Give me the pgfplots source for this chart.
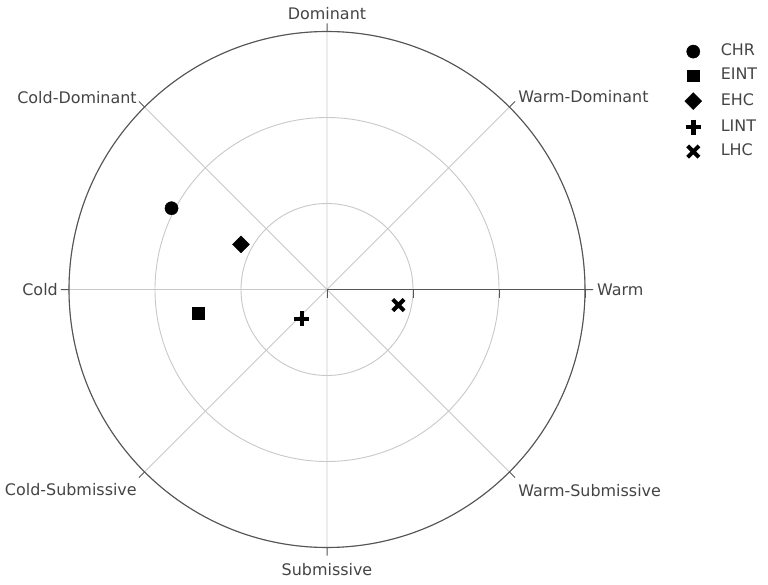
\documentclass[border=0pt]{standalone}
\usepackage{pgfplots}
\pgfplotsset{compat=1.18}
\usepgfplotslibrary{polar}
\usepackage{fontspec}
\setmainfont{DejaVu Sans}
\definecolor{txt}{HTML}{444444}
\definecolor{gridc}{HTML}{C8C8C8}
\definecolor{axc}{HTML}{555555}
\newcommand{\lblfont}{\fontsize{16}{19}\selectfont}
\begin{document}
\begin{tikzpicture}
\path[use as bounding box] (0,0) rectangle (768bp,585bp);
\begin{polaraxis}[
  at={(327bp,295.5bp)}, anchor=center,
  scale only axis, width=516bp, height=516bp,
  xmin=0, xmax=360, ymin=0, ymax=3,
  xtick={0,45,...,315}, xticklabels={},
  ytick={0,1,2,3}, yticklabels={},
  xmajorgrids, ymajorgrids,
  major grid style={gridc, line width=0.9bp},
  axis line style={axc, line width=1.1bp},
  xtick align=inside, ytick align=inside,
  major tick length=8bp,
  tick style={axc, line width=1bp},
  ytick style={yshift=-8bp},
  clip=false,
  legend style={draw=none, fill=none, at={(1.193,0.975)}, anchor=north west,
    inner sep=0pt, font=\lblfont, text=txt,
    nodes={inner xsep=4bp, inner ysep=0pt, text height=11bp, text depth=3bp},
    row sep=10bp, column sep=15bp},
  legend cell align=left,
]
\addplot[forget plot, no marks, draw=axc, line width=1.2bp] coordinates {(0,0) (0,3)};
\addplot[only marks, mark=*, mark size=6.6bp, black] coordinates {(152.4,2.04)};
\addlegendentry{CHR}
\addplot[only marks, mark=square*, mark size=5.8bp, black] coordinates {(190.5,1.52)};
\addlegendentry{EINT}
\addplot[only marks, mark=square*, mark size=6bp, mark options={rotate=45}, black] coordinates {(152.3,1.13)};
\addlegendentry{EHC}
\addplot[only marks, mark=+, mark size=7.5bp, mark options={line width=4.5bp}, black] coordinates {(229.4,0.45)};
\addlegendentry{LINT}
\addplot[only marks, mark=x, mark size=8bp, mark options={line width=4bp}, black] coordinates {(347.7,0.85)};
\addlegendentry{LHC}
\begin{scope}[every node/.style={font=\lblfont, text=txt, inner sep=4bp}]
\node[anchor=west] at (axis cs:0,3.093) {Warm};
\node[anchor=south west, inner sep=3bp, yshift=-4.5bp] at (axis cs:45,3.093) {Warm-Dominant};
\node[anchor=south] at (axis cs:90,3.093) {Dominant};
\node[anchor=south east, inner sep=2bp, yshift=-4.5bp] at (axis cs:135,3.093) {Cold-Dominant};
\node[anchor=east, inner sep=3bp] at (axis cs:180,3.093) {Cold};
\node[anchor=north east, inner sep=2bp, yshift=-4bp] at (axis cs:225,3.093) {Cold-Submissive};
\node[anchor=north, yshift=-4bp] at (axis cs:270,3.093) {Submissive};
\node[anchor=north west, inner sep=3bp, yshift=-4bp] at (axis cs:315,3.093) {Warm-Submissive};
\end{scope}
\end{polaraxis}
\end{tikzpicture}
\end{document}
